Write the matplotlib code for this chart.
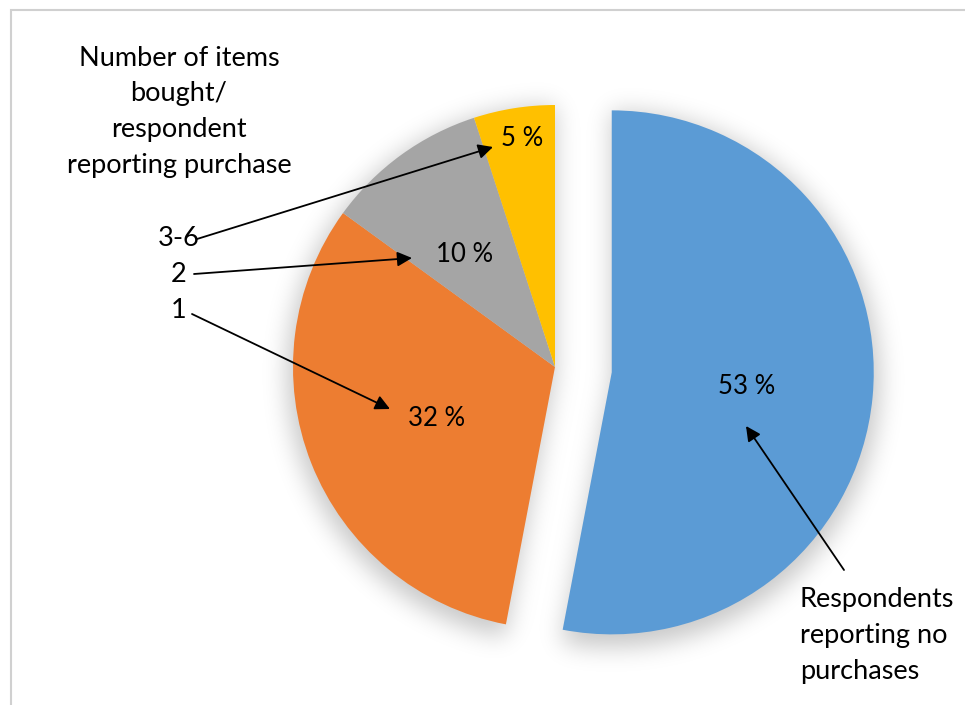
import numpy as np
import matplotlib.pyplot as plt

# Share of respondents by number of items bought
categories = ["Respondents\nreporting no\npurchases", "1", "2", "3-6"]
shares = [53, 32, 10, 5]
colors = ["#5B9BD5", "#ED7D31", "#A5A5A5", "#FFC000"]
pct_labels = ["53 %", "32 %", "10 %", "5 %"]

W, H = 965, 705
plt.rcParams["font.family"] = ["Lato", "DejaVu Sans"]

fig = plt.figure(figsize=(W / 100, H / 100), dpi=100)
ax = fig.add_axes([0, 0, 1, 1])

center = (555, H - 367)
radius = 262
wedges, _ = ax.pie(shares, colors=colors, startangle=90, counterclock=False,
                   radius=radius, center=center, explode=[57, 0, 0, 0],
                   wedgeprops=dict(linewidth=0, zorder=3), frame=True)
ax.set_xlim(0, W)
ax.set_ylim(0, H)
ax.set_aspect("equal")
ax.axis("off")

# chart area border (top and left edge visible)
ax.plot([10.5, 10.5, W + 5], [-5, H - 9.5, H - 9.5], color="#d0d0d0", lw=1.5,
        solid_joinstyle="miter", zorder=1)

# soft drop shadow under the pie
xx, yy = np.meshgrid(np.arange(W) + 0.5, np.arange(H) + 0.5 + 7)
mask = np.zeros((H, W))
for w in wedges:
    cx, cy = w.center
    dx, dy = xx - cx, yy - cy
    ang = np.degrees(np.arctan2(dy, dx))
    rel = (ang - w.theta1) % 360
    inside = (np.hypot(dx, dy) <= w.r + 6) & (rel <= (w.theta2 - w.theta1))
    mask[inside] = 1.0
sigma = 12
k = np.arange(-3 * sigma, 3 * sigma + 1)
kern = np.exp(-k ** 2 / (2 * sigma ** 2))
kern /= kern.sum()
blur = np.apply_along_axis(lambda r: np.convolve(r, kern, mode="same"), 1, mask)
blur = np.apply_along_axis(lambda c: np.convolve(c, kern, mode="same"), 0, blur)
shadow = np.zeros((H, W, 4))
shadow[..., 3] = blur * 0.22
ax.imshow(shadow, extent=(0, W, 0, H), origin="lower", zorder=2,
          interpolation="bilinear", aspect="equal")
ax.set_xlim(0, W)
ax.set_ylim(0, H)

# percentage labels on the slices
label_pos = [(747, 386), (437, 418), (465, 254), (522, 138)]
for txt, (x, y) in zip(pct_labels, label_pos):
    ax.text(x, H - y, txt, fontsize=18.5, ha="center", va="center", zorder=5)

ax.text(179, H - 112, "Number of items\nbought/\nrespondent\nreporting purchase",
        fontsize=19.5, ha="center", va="center", linespacing=1.55, zorder=5)

arrow = dict(arrowstyle="-|>", color="black", lw=1.3, mutation_scale=22,
             shrinkA=0, shrinkB=0)

# category callouts with arrows into the slices
callouts = [
    (categories[3], (179, 238), (197, 239), (493, 147)),
    (categories[2], (179, 274), (194, 274), (412, 258)),
    (categories[1], (179, 310), (192, 314), (390, 409)),
]
for txt, (tx, ty), tail, tip in callouts:
    ax.text(tx, H - ty, txt, fontsize=19.5, ha="center", va="center", zorder=5)
    ax.annotate("", xy=(tip[0], H - tip[1]), xytext=(tail[0], H - tail[1]),
                arrowprops=arrow, zorder=6)

ax.text(800, H - 635, categories[0], fontsize=19.5, ha="left", va="center",
        linespacing=1.55, zorder=5)
ax.annotate("", xy=(746, H - 426), xytext=(844, H - 570),
            arrowprops=arrow, zorder=6)

fig.savefig("out.png", dpi=100)
